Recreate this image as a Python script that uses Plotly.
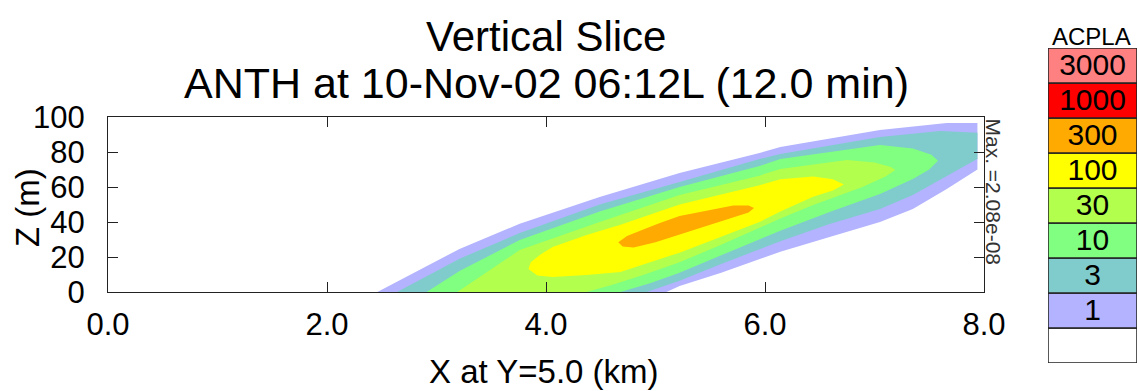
import plotly.graph_objects as go

# ---------------- data ----------------
# Contour outlines of the ANTH concentration field, x in km, z in m
lev1_x = [2.46, 2.76, 3.21, 3.76, 4.49, 5.22, 5.95, 6.14, 6.68, 7.05, 7.66, 7.94, 7.94, 7.66, 7.35, 7.05, 6.59, 6.14, 5.6, 5.22, 5.1]
lev1_z = [0, 9.7, 24.6, 39, 54.3, 68, 79.4, 82.9, 88.6, 92.6, 96.6, 96.6, 70, 58.9, 47.4, 40, 31.4, 23, 11, 3.5, 0]

lev3_x = [2.64, 3.21, 3.76, 4.49, 5.22, 5.95, 6.14, 6.68, 7.05, 7.6, 7.94, 7.94, 7.84, 7.35, 7.05, 6.59, 6.14, 5.6, 5.22, 4.92]
lev3_z = [0, 19, 33.7, 50, 62.9, 76, 78.9, 84.6, 88.6, 92, 91, 76, 72.6, 55.4, 47.4, 38.9, 29, 16, 6.5, 0]

lev10_x = [2.91, 3.21, 3.76, 4.49, 5.22, 5.95, 6.14, 6.68, 7.05, 7.35, 7.52, 7.58, 7.5, 7.35, 7.05, 6.59, 6.14, 5.6, 5.22, 4.95, 4.68]
lev10_z = [0, 12, 29.7, 46, 60, 72, 76, 80.5, 84, 82, 78.5, 75, 70, 64.6, 56, 45.7, 35, 21, 11, 5, 0]

lev30_x = [3.19, 3.76, 4.49, 5.22, 5.95, 6.14, 6.75, 7.0, 7.15, 7.19, 7.1, 6.89, 6.44, 6.14, 5.6, 5.22, 4.9, 4.6, 4.37]
lev30_z = [0, 24, 40, 55.4, 66.5, 70.3, 75.4, 74, 71.5, 69.7, 66, 60, 49.7, 42, 27, 17, 10, 4, 0]

lev100_x = [3.84, 3.86, 3.95, 4.06, 4.37, 4.68, 5.22, 5.95, 6.14, 6.44, 6.62, 6.72, 6.62, 6.44, 6.14, 5.95, 5.22, 4.68, 4.37, 4.06, 3.92, 3.84]
lev100_z = [13.1, 17, 21.5, 25.7, 32.6, 38.5, 50, 61, 64.5, 66, 64.5, 61.5, 58, 54.5, 46, 40, 22.5, 11.4, 9.7, 8.6, 9.5, 13.1]

lev300_x = [4.66, 4.74, 4.9, 5.04, 5.22, 5.5, 5.71, 5.85, 5.9, 5.85, 5.65, 5.4, 5.22, 5.0, 4.8, 4.7, 4.66]
lev300_z = [28.5, 32, 36, 39.5, 43.5, 47, 49.5, 49.5, 48, 45.5, 41.5, 36.5, 32.5, 28.5, 25.5, 26, 28.5]

# Legend (bottom to top)
legend_labels = ["", "1", "3", "10", "30", "100", "300", "1000", "3000"]
legend_colors = ["#FFFFFF", "#B3B3FF", "#80CCCC", "#80FF80", "#B3FF4D",
                 "#FFFF00", "#FFAA00", "#FF0000", "#FF8080"]

x_ticks = [0, 2, 4, 6, 8]
z_ticks = [0, 20, 40, 60, 80, 100]

FONT = "Liberation Sans, Arial, sans-serif"
W, H = 1139, 391

fig = go.Figure()

outlines = [(lev1_x, lev1_z, legend_colors[1]),
            (lev3_x, lev3_z, legend_colors[2]),
            (lev10_x, lev10_z, legend_colors[3]),
            (lev30_x, lev30_z, legend_colors[4]),
            (lev100_x, lev100_z, legend_colors[5]),
            (lev300_x, lev300_z, legend_colors[6])]
for xs, zs, col in outlines:
    fig.add_trace(go.Scatter(x=xs, y=zs, mode="lines", fill="toself",
                             fillcolor=col, line=dict(width=0, color=col),
                             hoverinfo="skip", showlegend=False,
                             xaxis="x", yaxis="y"))

# legend boxes
n = len(legend_labels)
fig.add_trace(go.Bar(x=[1] * n, y=[i + 0.5 for i in range(n)], orientation="h",
                     width=1, base=0, marker=dict(color=legend_colors,
                                                  line=dict(color="#222", width=1.5)),
                     hoverinfo="skip", showlegend=False, xaxis="x2", yaxis="y2"))
fig.add_trace(go.Scatter(x=[0.5] * n, y=[i + 0.45 for i in range(n)], mode="text",
                         text=legend_labels, textfont=dict(family=FONT, size=30, color="black"),
                         hoverinfo="skip", showlegend=False, xaxis="x2", yaxis="y2"))

def px_x(p):
    return p / W

def px_y(p):
    return 1 - p / H

axis_common = dict(showline=True, linecolor="#222", linewidth=1, mirror="ticks",
                   ticks="inside", ticklen=10, tickcolor="#222", tickwidth=1,
                   showgrid=False, zeroline=False, automargin=False,
                   tickfont=dict(family=FONT, size=31, color="black"))

fig.update_layout(
    template="none",
    width=W, height=H,
    margin=dict(l=0, r=0, t=0, b=0, pad=0, autoexpand=False),
    paper_bgcolor="white", plot_bgcolor="white",
    barmode="overlay",
    xaxis=dict(domain=[px_x(108), px_x(984)], range=[0, 8], tickvals=x_ticks,
               tickformat=".1f", ticklabelstandoff=5, **axis_common),
    yaxis=dict(domain=[px_y(292), px_y(117)], range=[0, 100], tickvals=z_ticks,
               ticklabelstandoff=16, **axis_common),
    xaxis2=dict(domain=[px_x(1048), px_x(1137)], range=[0, 1], visible=False,
                anchor="y2", fixedrange=True, automargin=False),
    yaxis2=dict(domain=[px_y(363), px_y(48)], range=[0, n], visible=False,
                anchor="x2", fixedrange=True, automargin=False),
    font=dict(family=FONT, color="black"),
)

annotations = [
    dict(text="Vertical Slice", x=px_x(546), y=px_y(37), font=dict(size=42)),
    dict(text="ANTH at 10-Nov-02 06:12L (12.0 min)", x=px_x(546), y=px_y(83), font=dict(size=43)),
    dict(text="X at Y=5.0 (km)", x=px_x(544), y=0, yanchor="bottom", borderpad=0,
         font=dict(size=33)),
    dict(text="Z (m)", x=px_x(27), y=px_y(208), font=dict(size=33), textangle=-90),
    dict(text="ACPLA", x=px_x(1091), y=px_y(36), font=dict(size=24)),
    dict(text="Max. =2.08e-08", x=px_x(993), y=px_y(117), yanchor="top",
         font=dict(size=21, color="#333"), textangle=90),
]
for a in annotations:
    a.setdefault("yanchor", "middle")
    a.update(xref="paper", yref="paper", showarrow=False, xanchor="center")
    a["font"]["family"] = FONT
    a["font"].setdefault("color", "black")
    fig.add_annotation(**a)

fig.write_html(
    "out.html",
    config={"displayModeBar": False},
    post_script="document.body.style.margin='0';document.body.style.overflow='hidden';",
)
